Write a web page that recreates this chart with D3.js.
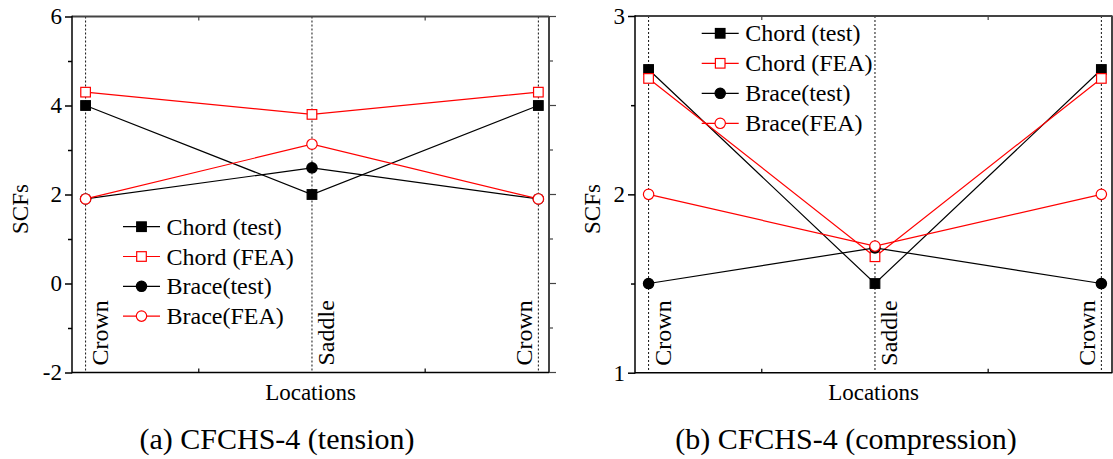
<!DOCTYPE html>
<meta charset="utf-8">
<style>

body {
  margin: 0;
  background: #fff;
}

.axis path,
.axis line {
  fill: none;
  stroke: #000;
  stroke-width: 1.5px;
}

.guide {
  stroke: #111;
  stroke-width: 1px;
  stroke-dasharray: 2,2;
}

.series {
  fill: none;
  stroke-width: 1.2px;
}

</style>
<body>
  <script src="https://d3js.org/d3.v7.min.js"></script>
  <script>

    var locations = ["Crown", "Saddle", "Crown"];
    var seriesNames = ["Chord (test)", "Chord (FEA)", "Brace(test)", "Brace(FEA)"];

    // (a) tension
    var tensionChordTest = [4.0, 2.0, 4.0];
    var tensionChordFEA = [4.3, 3.8, 4.3];
    var tensionBraceTest = [1.9, 2.6, 1.9];
    var tensionBraceFEA = [1.9, 3.13, 1.9];

    // (b) compression
    var compChordTest = [2.7, 1.5, 2.7];
    var compChordFEA = [2.65, 1.65, 2.65];
    var compBraceTest = [1.5, 1.7, 1.5];
    var compBraceFEA = [2.0, 1.71, 2.0];

    var tensionTicks = [-2, 0, 2, 4, 6];
    var tensionMinor = [-1, 1, 3, 5];
    var compTicks = [1, 2, 3];
    var compMinor = [1.5, 2.5];

    var captions = ["(a) CFCHS-4 (tension)", "(b) CFCHS-4 (compression)"];

    var serif = "'Liberation Serif', 'Times New Roman', serif";

    var styles = [
      {color: "#000", shape: "square", fill: "#000"},
      {color: "#f00", shape: "square", fill: "#fff"},
      {color: "#000", shape: "circle", fill: "#000"},
      {color: "#f00", shape: "circle", fill: "#fff"}
    ];

    var svg = d3.select("body").append("svg")
        .attr("width", 1113)
        .attr("height", 459);

    function marker(g, shape, x, y, color, fill) {
      if (shape === "square") {
        g.append("rect")
            .attr("x", x - 4.8).attr("y", y - 4.8)
            .attr("width", 9.6).attr("height", 9.6)
            .attr("fill", fill).attr("stroke", color).attr("stroke-width", 1.2);
      } else {
        g.append("circle")
            .attr("cx", x).attr("cy", y).attr("r", 5.2)
            .attr("fill", fill).attr("stroke", color).attr("stroke-width", 1.2);
      }
    }

    function panel(opt) {
      var g = svg.append("g");
      var left = opt.left, right = opt.right, top = opt.top, bottom = opt.bottom;

      var x = d3.scaleLinear().domain([0.94, 3.047]).range([left, right]);
      var y = d3.scaleLinear().domain(opt.domain).range([bottom, top]);

      // guide lines at each location
      g.selectAll(".guide")
          .data(locations)
        .enter().append("line")
          .attr("class", "guide")
          .attr("x1", function(d, i) { return x(i + 1); })
          .attr("x2", function(d, i) { return x(i + 1); })
          .attr("y1", top)
          .attr("y2", bottom);

      // frame: top and right
      g.append("line")
          .attr("x1", left).attr("x2", right).attr("y1", top).attr("y2", top)
          .attr("stroke", "#444").attr("stroke-width", 2);
      g.append("line")
          .attr("x1", right).attr("x2", right).attr("y1", top).attr("y2", bottom)
          .attr("stroke", "#444").attr("stroke-width", 2);

      // minor ticks top / bottom
      [1.5, 2.5].forEach(function(t) {
        g.append("line")
            .attr("x1", x(t)).attr("x2", x(t)).attr("y1", top).attr("y2", top + 4)
            .attr("stroke", "#444").attr("stroke-width", 1.2);
        g.append("line")
            .attr("x1", x(t)).attr("x2", x(t)).attr("y1", bottom).attr("y2", bottom - 4)
            .attr("stroke", "#000").attr("stroke-width", 1.2);
      });

      // right axis ticks
      opt.ticks.concat(opt.minor).forEach(function(t) {
        var major = opt.ticks.indexOf(t) >= 0;
        g.append("line")
            .attr("x1", right).attr("x2", right + (major ? 7 : 4))
            .attr("y1", y(t)).attr("y2", y(t))
            .attr("stroke", "#444").attr("stroke-width", 1.2);
      });

      // left axis
      g.append("g")
          .attr("class", "axis")
          .attr("transform", "translate(" + left + ",0)")
          .call(d3.axisLeft(y).tickValues(opt.ticks).tickSize(7).tickPadding(3)
                .tickFormat(function(d) { return String(d); }))
          .call(function(a) {
            a.select(".domain").remove();
            a.selectAll("text").style("font-size", "23px").attr("fill", "#000");
          });

      g.append("g")
          .attr("class", "axis")
          .attr("transform", "translate(" + left + ",0)")
          .call(d3.axisLeft(y).tickValues(opt.minor).tickSize(4).tickFormat(""))
          .call(function(a) { a.select(".domain").remove(); });

      g.append("line")
          .attr("x1", left).attr("x2", left).attr("y1", top - 0.75).attr("y2", bottom + 0.75)
          .attr("stroke", "#000").attr("stroke-width", 1.5);
      g.append("line")
          .attr("x1", left).attr("x2", right).attr("y1", bottom).attr("y2", bottom)
          .attr("stroke", "#000").attr("stroke-width", 1.5);

      // location labels
      g.selectAll(".loc")
          .data(locations)
        .enter().append("text")
          .attr("class", "loc")
          .attr("transform", function(d, i) {
            var px = x(i + 1) + (i < 2 ? 22 : -6.5);
            return "translate(" + px + "," + (bottom - 7) + ") rotate(-90)";
          })
          .style("font-size", "24px")
          .text(function(d) { return d; });

      // series
      var line = d3.line()
          .x(function(d, i) { return x(i + 1); })
          .y(function(d) { return y(d); });

      opt.series.forEach(function(values, k) {
        var s = styles[k];
        g.append("path")
            .datum(values)
            .attr("class", "series")
            .attr("stroke", s.color)
            .attr("d", line);
      });
      opt.series.forEach(function(values, k) {
        var s = styles[k];
        values.forEach(function(v, i) {
          marker(g, s.shape, x(i + 1), y(v), s.color, s.fill);
        });
      });

      // legend
      seriesNames.forEach(function(name, k) {
        var s = styles[k];
        var ly = opt.legend.y + k * opt.legend.dy;
        g.append("line")
            .attr("x1", opt.legend.x).attr("x2", opt.legend.x + 37)
            .attr("y1", ly).attr("y2", ly)
            .attr("stroke", s.color).attr("stroke-width", 1.2);
        marker(g, s.shape, opt.legend.x + 18.5, ly, s.color, s.fill);
        g.append("text")
            .attr("x", opt.legend.x + 43.5)
            .attr("y", ly + 8)
            .style("font-size", "24px")
            .text(name);
      });

      // axis titles
      g.append("text")
          .attr("transform", "translate(" + opt.yLabelX + ",209) rotate(-90)")
          .attr("text-anchor", "middle")
          .style("font-size", "23px")
          .text("SCFs");

      g.append("text")
          .attr("x", (left + right) / 2)
          .attr("y", 400)
          .attr("text-anchor", "middle")
          .style("font-size", "23px")
          .text("Locations");

      g.append("text")
          .attr("x", opt.captionX)
          .attr("y", 449)
          .attr("text-anchor", "middle")
          .style("font-size", "30px")
          .text(opt.caption);
    }

    panel({
      left: 72, right: 549, top: 16.5, bottom: 372.5,
      domain: [-2, 6], ticks: tensionTicks, minor: tensionMinor,
      series: [tensionChordTest, tensionChordFEA, tensionBraceTest, tensionBraceFEA],
      legend: {x: 123, y: 226.7, dy: 29.8},
      yLabelX: 28,
      caption: captions[0], captionX: 277
    });

    panel({
      left: 635, right: 1112, top: 16, bottom: 372.7,
      domain: [1, 3], ticks: compTicks, minor: compMinor,
      series: [compChordTest, compChordFEA, compBraceTest, compBraceFEA],
      legend: {x: 701.7, y: 33.3, dy: 30},
      yLabelX: 600,
      caption: captions[1], captionX: 846
    });

    svg.selectAll("text")
        .style("font-family", serif)
        .attr("fill", "#000");

  </script>
</body>
</html>
